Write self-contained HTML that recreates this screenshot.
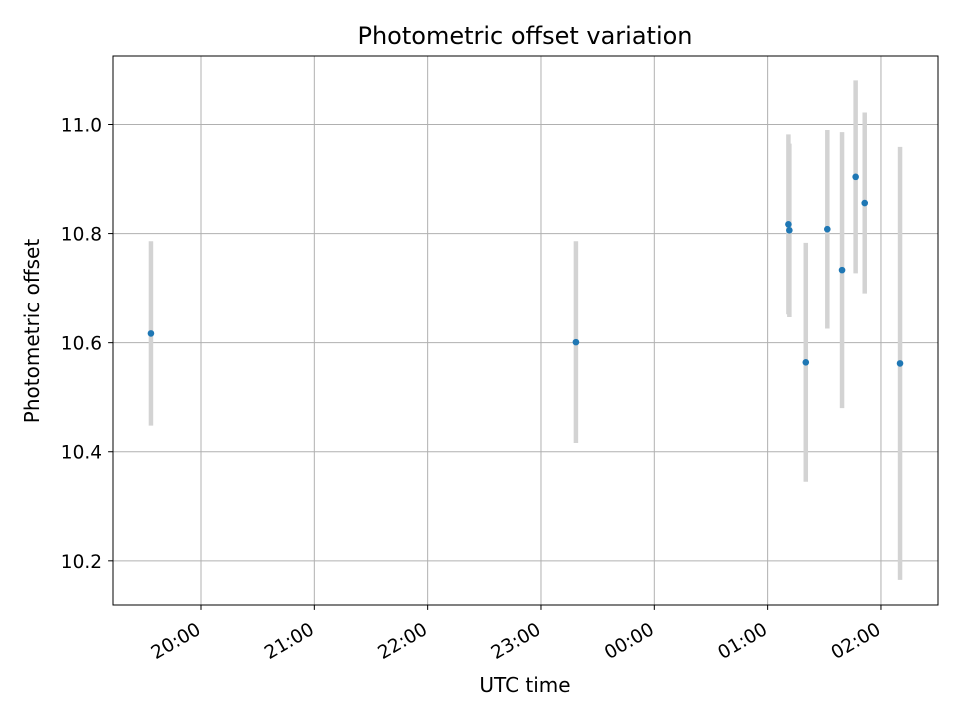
<!DOCTYPE html>
<html><head><meta charset="utf-8"><style>
html,body{margin:0;padding:0;background:#fff;}
svg{display:block;font-family:"DejaVu Sans","Liberation Sans",sans-serif;}
</style></head><body>
<svg id="chart" width="960" height="720" xmlns="http://www.w3.org/2000/svg">
<rect width="960" height="720" fill="#fff"/>
<text x="525" y="44" text-anchor="middle" font-size="24">Photometric offset variation</text>
<text x="525" y="692" text-anchor="middle" font-size="20">UTC time</text>
<text transform="translate(39,331) rotate(-90)" text-anchor="middle" font-size="20">Photometric offset</text>
<g id="grid"></g>
<g id="errs"></g>
<g id="pts"></g>
<g id="axes"></g>
</svg>
<script>
// minutes since 19:00 UTC
const times = [33.5, 258.5, 371.0, 371.5, 380.2, 391.6, 399.4, 406.6, 411.4, 430.1];
const offsets = [10.617, 10.601, 10.817, 10.806, 10.564, 10.808, 10.733, 10.904, 10.856, 10.562];
const errors = [0.169, 0.185, 0.165, 0.159, 0.219, 0.182, 0.253, 0.177, 0.166, 0.397];
const xTicks = [60, 120, 180, 240, 300, 360, 420];
const xTickLabels = ["20:00", "21:00", "22:00", "23:00", "00:00", "01:00", "02:00"];
const yTicks = [10.2, 10.4, 10.6, 10.8, 11.0];
const yTickLabels = ["10.2", "10.4", "10.6", "10.8", "11.0"];

const L=113,R=938,T=56,B=605;
const xMin=13.41,xMax=450.2;
const yMin=10.119,yMax=11.1256;
const X=v=>L+(v-xMin)/(xMax-xMin)*(R-L);
const Y=v=>T+(yMax-v)/(yMax-yMin)*(B-T);
const NS="http://www.w3.org/2000/svg";
function mk(tag,attrs,parent){const e=document.createElementNS(NS,tag);for(const k in attrs)e.setAttribute(k,attrs[k]);parent.appendChild(e);return e;}
const grid=document.getElementById('grid'),errs=document.getElementById('errs'),pts=document.getElementById('pts'),axes=document.getElementById('axes');
xTicks.forEach((t,i)=>{
  const x=X(t);
  const g=mk('line',{x1:x,x2:x,y1:T,y2:B,stroke:'#b0b0b0','stroke-width':1},grid);
  
  
  const tk=mk('line',{x1:x,x2:x,y1:B,y2:B+4.9,stroke:'#000','stroke-width':1},axes);
  
  
  const ax=x+1, ay=633;
  const lb=mk('text',{x:ax,y:ay,'text-anchor':'end','font-size':18.5,transform:`rotate(-30 ${ax} ${ay})`},axes);
  lb.textContent=xTickLabels[i];
  
  
});
yTicks.forEach((t,i)=>{
  const y=Y(t);
  const g=mk('line',{x1:L,x2:R,y1:y,y2:y,stroke:'#b0b0b0','stroke-width':1},grid);
  
  
  const tk=mk('line',{x1:L-4.9,x2:L,y1:y,y2:y,stroke:'#000','stroke-width':1},axes);
  
  
  const lb=mk('text',{x:L-11,y:y+7,'text-anchor':'end','font-size':18.5},axes);
  lb.textContent=yTickLabels[i];
  
  
});
times.forEach((t,i)=>{
  const x=X(t);
  const e=mk('line',{x1:x,x2:x,y1:Y(offsets[i]+errors[i]),y2:Y(offsets[i]-errors[i]),stroke:'#d3d3d3','stroke-width':4.5},errs);
  
  
});
times.forEach((t,i)=>{
  const c=mk('circle',{cx:X(t),cy:Y(offsets[i]),r:3.3,fill:'#1f77b4'},pts);
  
  
});
const fr=mk('rect',{x:L,y:T,width:R-L,height:B-T,fill:'none',stroke:'#000','stroke-width':1},axes);


</script>
</body></html>
